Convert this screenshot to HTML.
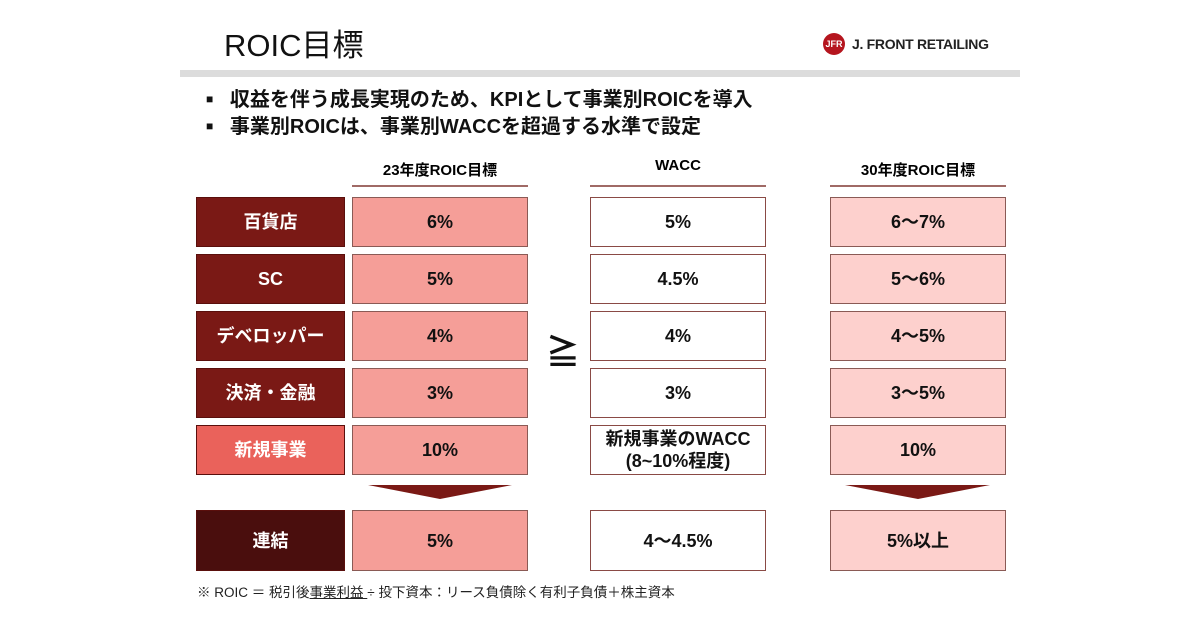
<!DOCTYPE html>
<html><head><meta charset="utf-8"><style>
body{margin:0;width:1200px;height:630px;background:#fff;position:relative;overflow:hidden;font-family:"Liberation Sans","Noto Sans CJK JP",sans-serif;}
.a{position:absolute;}
.box{position:absolute;display:flex;align-items:center;justify-content:center;box-sizing:border-box;font-weight:bold;font-size:18px;color:#111;text-align:center;line-height:22px;}
.lab{background:#7a1915;color:#fff;border:1px solid #5a0f0c;}
.c1{background:#f59e98;border:1px solid #8a5a55;}
.c2{background:#fff;border:1px solid #8a4a45;}
.c3{background:#fdd0cd;border:1px solid #8a5a55;}
.hd{position:absolute;font-weight:bold;font-size:15px;text-align:center;width:176px;}
.ul{position:absolute;height:2px;background:#a06a66;width:176px;top:185px;}
</style></head><body>
<div class="a" style="left:224px;top:20px;font-size:31px;color:#111;">ROIC目標</div>
<div class="a" style="left:823px;top:33px;width:22px;height:22px;border-radius:50%;background:#b5151e;color:#fff;font-size:9px;font-weight:bold;text-align:center;line-height:22px;">JFR</div>
<div class="a" style="left:852px;top:36px;font-size:14px;font-weight:bold;color:#222;letter-spacing:-0.3px;">J. FRONT RETAILING</div>
<div class="a" style="left:180px;top:70px;width:840px;height:7px;background:#dcdcdc;"></div>
<div class="a" style="left:206px;top:83px;font-size:20px;font-weight:bold;color:#111;"><span style="font-size:12px;vertical-align:3px;">■</span>&nbsp;&nbsp;&nbsp;収益を伴う成長実現のため、KPIとして事業別ROICを導入</div>
<div class="a" style="left:206px;top:110px;font-size:20px;font-weight:bold;color:#111;"><span style="font-size:12px;vertical-align:3px;">■</span>&nbsp;&nbsp;&nbsp;事業別ROICは、事業別WACCを超過する水準で設定</div>

<div class="hd" style="left:352px;top:159px;">23年度ROIC目標</div>
<div class="hd" style="left:590px;top:157px;">WACC</div>
<div class="hd" style="left:830px;top:159px;">30年度ROIC目標</div>
<div class="ul" style="left:352px;"></div>
<div class="ul" style="left:590px;"></div>
<div class="ul" style="left:830px;"></div>

<div id="rows"></div>

<div class="a" style="left:546px;top:333px;font-size:34px;font-weight:bold;line-height:40px;color:#111;">≧</div>

<svg class="a" style="left:0;top:0" width="1200" height="630">
<polygon points="368,485 512,485 440,499" fill="#7a1915"/>
<polygon points="845,485 990,485 918,499" fill="#7a1915"/>
</svg>

<div class="a" style="left:197px;top:581px;font-size:13.5px;color:#222;">※ ROIC ＝ 税引後<span style="text-decoration:underline;">事業利益 </span>÷ 投下資本：リース負債除く有利子負債＋株主資本</div>

<script>
const labels=["百貨店","SC","デベロッパー","決済・金融","新規事業"];
const roic23=["6%","5%","4%","3%","10%"];
const wacc=["5%","4.5%","4%","3%","新規事業のWACC<br>(8~10%程度)"];
const roic30=["6～7%","5～6%","4～5%","3～5%","10%"];
const total=["連結","5%","4～4.5%","5%以上"];
const root=document.getElementById('rows');
function box(cls,x,y,w,h,html,name,bg){
  const d=document.createElement('div');
  d.className='box '+cls;
  d.style.left=x+'px';d.style.top=y+'px';d.style.width=w+'px';d.style.height=h+'px';
  if(bg)d.style.background=bg;
  d.innerHTML=html;
  
  
  root.appendChild(d);
}
labels.forEach((l,i)=>{
  const y=197+i*57;
  box('lab',196,y,149,50,l,'label-'+i,i==4?'#ea625b':null);
  box('c1',352,y,176,50,roic23[i],'roic23-'+i);
  box('c2',590,y,176,50,wacc[i],'wacc-'+i);
  box('c3',830,y,176,50,roic30[i],'roic30-'+i);
});
box('lab',196,510,149,61,total[0],'label-total','#4a0e0d');
box('c1',352,510,176,61,total[1],'roic23-total');
box('c2',590,510,176,61,total[2],'wacc-total');
box('c3',830,510,176,61,total[3],'roic30-total');
</script>
</body></html>
